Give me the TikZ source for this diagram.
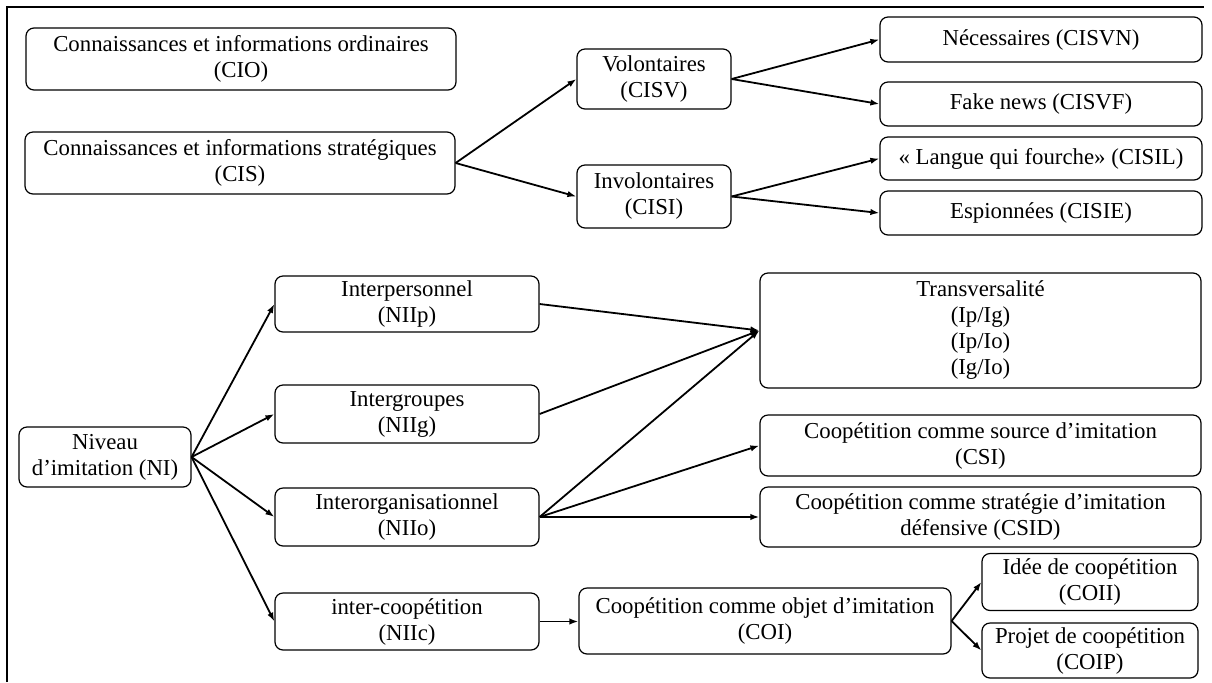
\documentclass[tikz,border=0pt]{standalone}
\usepackage{fontspec}
\setmainfont{Liberation Serif}
\usetikzlibrary{arrows.meta}
\begin{document}
\begin{tikzpicture}[x=0.5pt,y=-0.5pt,
  box/.style={draw, line width=0.6pt, rounded corners=4pt, align=center,
    inner sep=1pt, font=\fontsize{11.4}{13}\selectfont},
  arr/.style={line width=0.9pt, -{Latex[length=4.5pt,width=3.2pt]}}]
\useasboundingbox (0,0) rectangle (1212,682);
\draw[line width=0.7pt] (7,682) -- (7,7) -- (1204,7);
% top part
\node[box, minimum width=215pt, minimum height=31pt] (CIO) at (241,59) {Connaissances et informations ordinaires\\(CIO)};
\node[box, minimum width=215pt, minimum height=31pt] (CIS) at (240,163) {Connaissances et informations stratégiques\\(CIS)};
\node[box, minimum width=77pt, minimum height=30pt] (CISV) at (654,79) {Volontaires\\(CISV)};
\node[box, minimum width=77pt, minimum height=31.5pt] (CISI) at (654,196.5) {Involontaires\\(CISI)};
\node[box, minimum width=161pt, minimum height=22.5pt] (CISVN) at (1041,39.5) {Nécessaires (CISVN)};
\node[box, minimum width=161pt, minimum height=22pt] (CISVF) at (1041,104) {Fake news (CISVF)};
\node[box, minimum width=161pt, minimum height=21.5pt] (CISIL) at (1041,158.5) {« Langue qui fourche» (CISIL)};
\node[box, minimum width=161pt, minimum height=22pt] (CISIE) at (1041,213) {Espionnées (CISIE)};
% bottom part
\node[box, minimum width=86pt, minimum height=30pt] (NI) at (105,457) {Niveau\\d’imitation (NI)};
\node[box, minimum width=132pt, minimum height=28pt] (NIIp) at (407,304) {Interpersonnel\\(NIIp)};
\node[box, minimum width=132pt, minimum height=29pt] (NIIg) at (407,414) {Intergroupes\\(NIIg)};
\node[box, minimum width=132pt, minimum height=29pt] (NIIo) at (407,517) {Interorganisationnel\\(NIIo)};
\node[box, minimum width=132pt, minimum height=28.5pt] (NIIc) at (407,621.5) {inter-coopétition\\(NIIc)};
\node[box, minimum width=220.5pt, minimum height=57.5pt] (TR) at (980.5,330.5) {Transversalité\\(Ip/Ig)\\(Ip/Io)\\(Ig/Io)};
\node[box, minimum width=220.5pt, minimum height=30.5pt] (CSI) at (980.5,445.5) {Coopétition comme source d’imitation\\(CSI)};
\node[box, minimum width=220.5pt, minimum height=30pt] (CSID) at (980.5,517) {Coopétition comme stratégie d’imitation\\défensive (CSID)};
\node[box, minimum width=186pt, minimum height=33pt] (COI) at (765,621) {Coopétition comme objet d’imitation\\(COI)};
\node[box, minimum width=108pt, minimum height=28.5pt] (COII) at (1090,582) {Idée de coopétition\\(COII)};
\node[box, minimum width=108pt, minimum height=27.5pt] (COIP) at (1090,650.5) {Projet de coopétition\\(COIP)};
% connectors
\draw[arr] (CIS.east) -- (CISV.west);
\draw[arr] (CIS.east) -- (CISI.west);
\draw[arr] (CISV.east) -- (CISVN.west);
\draw[arr] (CISV.east) -- (CISVF.west);
\draw[arr] (CISI.east) -- (CISIL.west);
\draw[arr] (CISI.east) -- (CISIE.west);
\draw[arr] (NI.east) -- (NIIp.west);
\draw[arr] (NI.east) -- (NIIg.west);
\draw[arr] (NI.east) -- (NIIo.west);
\draw[arr] (NI.east) -- (NIIc.west);
\draw[arr] (NIIp.east) -- (TR.west);
\draw[arr] (NIIg.east) -- (TR.west);
\draw[arr] (NIIo.east) -- (TR.west);
\draw[arr] (NIIo.east) -- (CSI.west);
\draw[arr] (NIIo.east) -- (CSID.west);
\draw[arr] (NIIc.east) -- (NIIc.east -| COI.west);
\draw[arr] (COI.east) -- (COII.west);
\draw[arr] (COI.east) -- (COIP.west);
\end{tikzpicture}
\end{document}
